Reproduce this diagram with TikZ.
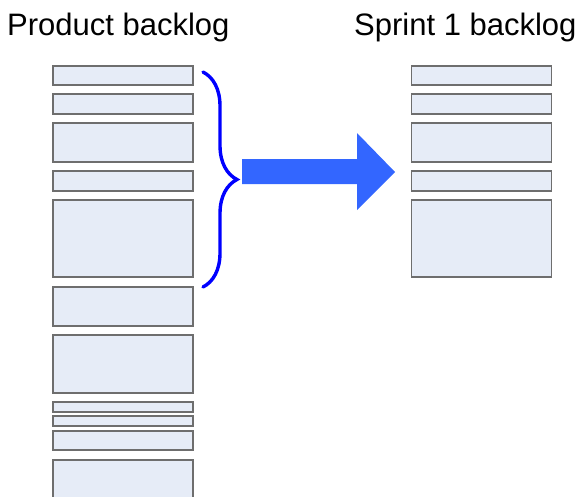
\documentclass[tikz,border=0pt]{standalone}
\usepackage{fontspec}
\setmainfont{Liberation Sans}
\usetikzlibrary{decorations.pathreplacing}

\definecolor{itemfill}{HTML}{E6ECF7}
\definecolor{itemline}{HTML}{6E6E6E}
\definecolor{movearrow}{HTML}{3366FF}
\definecolor{bracecol}{HTML}{0000FF}

\tikzset{
  item/.style={draw=itemline, fill=itemfill, line width=1.2pt, inner sep=0pt, outer sep=0pt,
    minimum width=140pt, rectangle},
  title/.style={anchor=base west, inner sep=0pt, font=\fontsize{31}{36}\selectfont},
}

\begin{document}
\begin{tikzpicture}[x=1pt, y=-1pt]
      \useasboundingbox (0, 0) rectangle (583, 496);
      \node[title] (ptitle) at (7, 35) {Product backlog};
      \node[title] (stitle) at (354, 35) {Sprint 1 backlog};
      \foreach \t/\b [count=\i] in {66/85, 94/114, 123/162, 171/191, 200/277, 287/326,
                                    335/393, 402/412, 416/426, 431/450, 460/500} {
        \node[item, minimum height={(\b-\t)*1pt}] (p\i) at (123, {(\t+\b)/2}) {};
      }
      \foreach \t/\b [count=\i] in {66/85, 94/114, 123/162, 171/191, 200/277} {
        \node[item, minimum height={(\b-\t)*1pt}] (s\i) at (481.5, {(\t+\b)/2}) {};
      }
      \coordinate (btop) at (203, 72);
      \coordinate (bbot) at (203, 287);
      \draw[bracecol, line width=3.4pt, line cap=round, decorate,
        decoration={brace, amplitude=34pt, aspect=0.5}]
        (btop) -- (bbot);
      \fill[movearrow] (242, 159) -- (357, 159) -- (357, 133) -- (395, 172)
        -- (357, 210) -- (357, 184) -- (242, 184) -- cycle;
    \end{tikzpicture}
\end{document}
